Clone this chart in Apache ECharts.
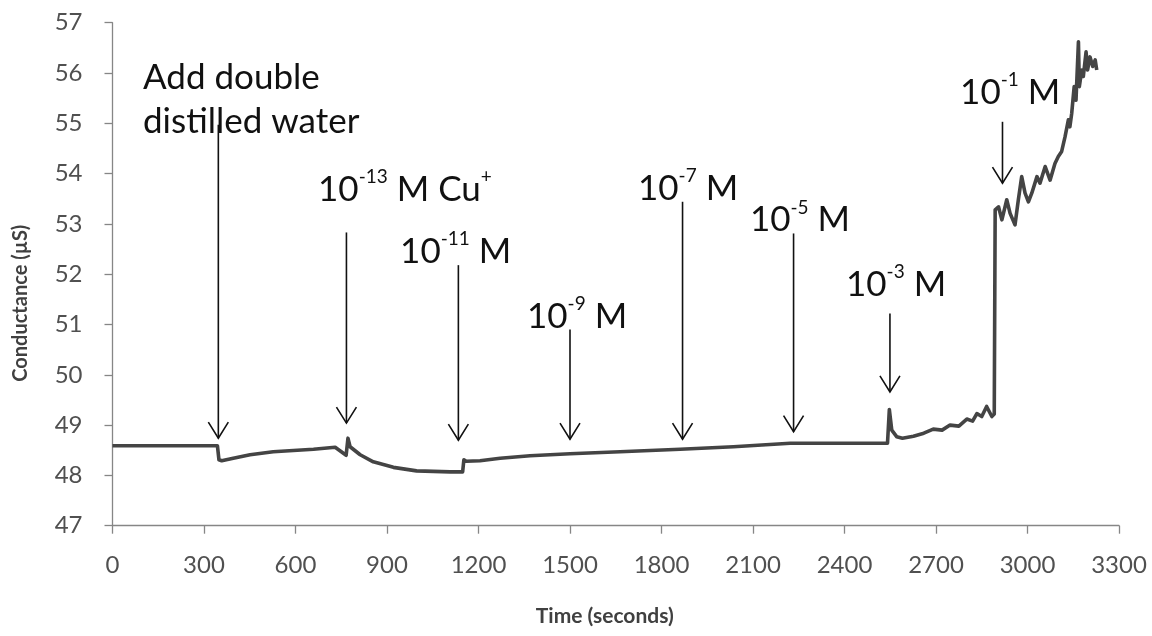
<!DOCTYPE html>
<html>
<head>
<meta charset="utf-8">
<script src="https://cdn.jsdelivr.net/npm/echarts@6/dist/echarts.min.js"></script>
<style>
  html, body { margin: 0; padding: 0; background: #ffffff; }
  #chart { width: 1152px; height: 636px; }
</style>
</head>
<body>
<div id="chart"></div>
<script>
// Conductance trace (time in seconds, conductance in µS)
const timeSec = [
  0, 344, 349, 358, 396, 451, 527, 659, 730, 766, 772, 779, 812, 855, 921, 997,
  1107, 1148, 1152, 1160, 1205, 1271, 1369, 1500, 1664, 1861, 2036, 2222, 2407,
  2541, 2547, 2555, 2571, 2590, 2626, 2660, 2691, 2720, 2746, 2775, 2801, 2820,
  2834, 2850, 2866, 2883, 2891, 2894, 2905, 2916, 2932, 2943, 2959, 2970, 2981,
  2992, 3003, 3014, 3031, 3041, 3058, 3074, 3090, 3101, 3112, 3123, 3134, 3139,
  3145, 3153, 3159, 3167, 3170, 3178, 3183, 3192, 3197, 3205, 3214, 3222, 3227
];
const conductance = [
  48.59, 48.59, 48.31, 48.29, 48.34, 48.41, 48.47, 48.52, 48.56, 48.40, 48.74, 48.57, 48.41, 48.27, 48.16, 48.09,
  48.07, 48.07, 48.31, 48.28, 48.29, 48.34, 48.39, 48.43, 48.47, 48.52, 48.57, 48.64, 48.64,
  48.64, 49.31, 48.90, 48.77, 48.74, 48.78, 48.84, 48.92, 48.90, 49.00, 48.98, 49.12, 49.08,
  49.23, 49.17, 49.37, 49.17, 49.22, 53.28, 53.34, 53.08, 53.48, 53.21, 52.98, 53.48, 53.94,
  53.61, 53.44, 53.61, 53.94, 53.81, 54.14, 53.87, 54.20, 54.34, 54.44, 54.73, 55.07, 54.93,
  55.20, 55.73, 55.46, 56.62, 55.73, 56.06, 55.93, 56.42, 56.06, 56.32, 56.13, 56.26, 56.06
];

// Axis ticks
const xTicks = { min: 0, max: 3300, step: 300 };
const yTicks = { min: 47, max: 57, step: 1 };

// Addition markers: arrow time, arrow start (top) and arrow tip values
const arrowTime = [347, 767, 1134, 1500, 1869, 2233, 2549, 2918];
const arrowTop  = [54.97, 52.83, 52.18, 50.90, 53.44, 52.81, 51.22, 55.03];
const arrowTip  = [48.74, 49.04, 48.70, 48.72, 48.72, 48.87, 49.66, 53.81];

// Marker captions: anchor (left edge time, vertical centre value) and text parts
const captionTime  = [100, 674, 943, 1359, 1723, 2090, 2405, 2779];
const captionValue = [55.46, 53.68, 52.45, 51.16, 53.70, 53.08, 51.79, 55.61];
const captionBase  = ['', '10', '10', '10', '10', '10', '10', '10'];
const captionExp   = ['', '-13', '-11', '-9', '-7', '-5', '-3', '-1'];
const captionTail  = ['Add double\ndistilled water', ' M Cu', ' M', ' M', ' M', ' M', ' M', ' M'];
const captionTailSup = ['', '+', '', '', '', '', '', ''];

const FONT = 'Lato, "Open Sans", "Noto Sans", sans-serif';
const INK = '#111111';

const trace = timeSec.map((t, i) => [t, conductance[i]]);
const arrows = arrowTime.map((t, i) => [t, arrowTop[i], arrowTip[i]]);
const captions = captionTime.map((t, i) => [t, captionValue[i], i]);

function captionRich(i) {
  if (!captionBase[i]) {
    return captionTail[i].split('\n').map(s => '{n|' + s + '}').join('\n');
  }
  let s = '{n|' + captionBase[i] + '}{s|' + captionExp[i] + '}{n|' + captionTail[i] + '}';
  if (captionTailSup[i]) s += '{s|' + captionTailSup[i] + '}';
  return s;
}

const chart = echarts.init(document.getElementById('chart'), null, { renderer: 'canvas' });

const axisColor = '#868686';
const labelColor = '#505050';

chart.setOption({
  backgroundColor: '#ffffff',
  animation: false,
  grid: { left: 112.5, right: 33, top: 22.7, bottom: 110.3 },
  xAxis: {
    type: 'value',
    min: xTicks.min, max: xTicks.max, interval: xTicks.step,
    axisLine: { show: true, lineStyle: { color: axisColor, width: 1.3 } },
    axisTick: { show: true, length: 8, lineStyle: { color: axisColor, width: 1.3 } },
    splitLine: { show: false },
    axisLabel: { fontFamily: FONT, fontSize: 24, color: labelColor, margin: 28, formatter: v => String(v) },
    name: 'Time (seconds)',
    nameLocation: 'middle',
    nameGap: 80,
    nameTextStyle: { fontFamily: FONT, fontSize: 21, fontWeight: 'bold', color: '#404040', padding: [0, 22, 0, 0] }
  },
  yAxis: {
    type: 'value',
    min: yTicks.min, max: yTicks.max, interval: yTicks.step,
    axisLine: { show: true, lineStyle: { color: axisColor, width: 1.3 } },
    axisTick: { show: true, length: 8, lineStyle: { color: axisColor, width: 1.3 } },
    splitLine: { show: false },
    axisLabel: { fontFamily: FONT, fontSize: 24, color: labelColor, margin: 30, formatter: v => String(v) },
    name: 'Conductance (µS)',
    nameLocation: 'middle',
    nameGap: 82,
    nameTextStyle: { fontFamily: FONT, fontSize: 20, fontWeight: 'bold', color: '#404040', padding: [0, 58, 0, 0] }
  },
  series: [
    {
      type: 'line',
      data: trace,
      showSymbol: false,
      smooth: false,
      lineStyle: { color: '#444444', width: 3.6, join: 'round' },
      silent: true,
      z: 3
    },
    {
      type: 'custom',
      data: arrows,
      silent: true,
      clip: false,
      z: 4,
      renderItem: function (params, api) {
        const top = api.coord([api.value(0), api.value(1)]);
        const tip = api.coord([api.value(0), api.value(2)]);
        const style = { stroke: INK, lineWidth: 1.6, fill: null };
        return {
          type: 'group',
          children: [
            { type: 'line', shape: { x1: top[0], y1: top[1], x2: tip[0], y2: tip[1] }, style: style },
            { type: 'polyline', shape: { points: [[tip[0] - 10, tip[1] - 16], [tip[0], tip[1]], [tip[0] + 10, tip[1] - 16]] }, style: style }
          ]
        };
      }
    },
    {
      type: 'custom',
      data: captions,
      silent: true,
      clip: false,
      z: 5,
      renderItem: function (params, api) {
        const p = api.coord([api.value(0), api.value(1)]);
        const i = api.value(2);
        return {
          type: 'text',
          x: p[0],
          y: p[1],
          style: {
            text: captionRich(i),
            align: 'left',
            verticalAlign: 'middle',
            fill: INK,
            font: '35px ' + FONT,
            rich: {
              n: { fontSize: 35, fontFamily: FONT, fill: INK, lineHeight: 44 },
              s: { fontSize: 19, fontFamily: FONT, fill: INK, lineHeight: 26, verticalAlign: 'top' }
            }
          }
        };
      }
    }
  ]
});
</script>
</body>
</html>
